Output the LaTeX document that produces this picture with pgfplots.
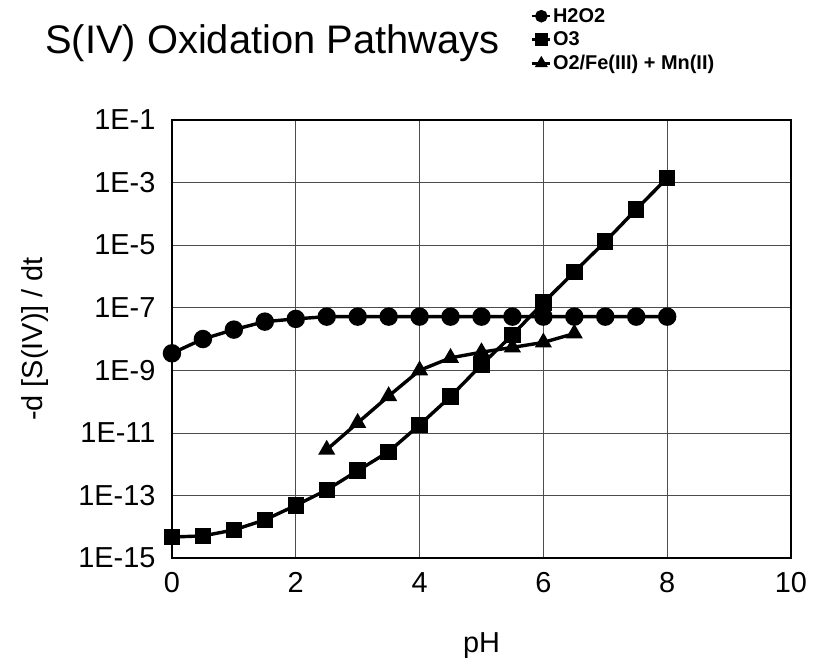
\documentclass[border=0pt]{standalone}
\usepackage{fontspec}
\setmainfont{Liberation Sans}
\usepackage{pgfplots}
\pgfplotsset{compat=1.18}
\begin{document}
\begin{tikzpicture}
\begin{axis}[
  scale only axis, width=619bp, height=438bp,
  xmin=0, xmax=10, ymode=log, ymin=1e-15, ymax=1e-1,
  xtick={0,2,4,6,8,10},
  ytick={1e-15,1e-13,1e-11,1e-9,1e-7,1e-5,1e-3,1e-1},
  yticklabels={1E-15,1E-13,1E-11,1E-9,1E-7,1E-5,1E-3,1E-1},
  yminorticks=false, xminorticks=false,
  grid=major, major grid style={black!70, line width=0.7bp},
  axis line style={line width=1.3bp},
  major tick length=0pt,
  /pgf/number format/assume math mode=true,
  tick label style={font=\fontsize{29}{34}\selectfont},
  xticklabel style={yshift=-11bp},
  yticklabel style={xshift=-13bp},
  xlabel={pH}, ylabel={-d [S(IV)] / dt},
  label style={font=\fontsize{29}{34}\selectfont},
  xlabel style={at={(rel axis cs:0.5,-0.215)}, anchor=base},
  ylabel style={at={(rel axis cs:-0.222,0.5)}, anchor=center},
  legend style={at={(rel axis cs:0.575,1.263)}, anchor=north west, draw=none, fill=none,
    font=\bfseries\fontsize{20}{23}\selectfont, row sep=5bp,
    nodes={inner sep=1.5bp}},
  legend cell align=left,
  legend image code/.code={\draw[line width=2.5bp, mark size=5bp, mark repeat=2, mark phase=2] plot coordinates {(0bp,0bp)(9bp,0bp)(18bp,0bp)};},
  clip=false,
]
\addplot[black, line width=3.4bp, mark=*, mark size=7.5bp, mark options={solid,fill=black}] coordinates {
(0,3.5e-9)(0.5,1.0e-8)(1,2.0e-8)(1.5,3.6e-8)(2,4.4e-8)(2.5,5.2e-8)(3,5.2e-8)(3.5,5.2e-8)(4,5.2e-8)(4.5,5.2e-8)(5,5.2e-8)(5.5,5.2e-8)(6,5.2e-8)(6.5,5.2e-8)(7,5.2e-8)(7.5,5.2e-8)(8,5.2e-8)};
\addlegendentry{H2O2}
\addplot[black, line width=3.4bp, mark=square*, mark size=6.5bp, mark options={solid,fill=black}] coordinates {
(0,4.7e-15)(0.5,5.1e-15)(1,7.9e-15)(1.5,1.66e-14)(2,4.8e-14)(2.5,1.5e-13)(3,6.2e-13)(3.5,2.5e-12)(4,1.8e-11)(4.5,1.45e-10)(5,1.5e-9)(5.5,1.35e-8)(6,1.45e-7)(6.5,1.4e-6)(7,1.3e-5)(7.5,1.4e-4)(8,1.4e-3)};
\addlegendentry{O3}
\addplot[black, line width=3.4bp, mark=triangle*, mark size=6.5bp, mark options={solid,fill=black}] coordinates {
(2.5,2.9e-12)(3,2.1e-11)(3.5,1.5e-10)(4,1.0e-9)(4.5,2.5e-9)(5,3.8e-9)(5.5,5.4e-9)(6,7.8e-9)(6.5,1.5e-8)};
\addlegendentry{O2/Fe(III) + Mn(II)}
\node[anchor=base west, font=\fontsize{40}{48}\selectfont, inner sep=0pt] at (rel axis cs:-0.205,1.153) {S(IV) Oxidation Pathways};
\path (rel axis cs:-0.2778,-0.2374) rectangle (rel axis cs:1.0404,1.2740);
\end{axis}
\end{tikzpicture}
\end{document}
